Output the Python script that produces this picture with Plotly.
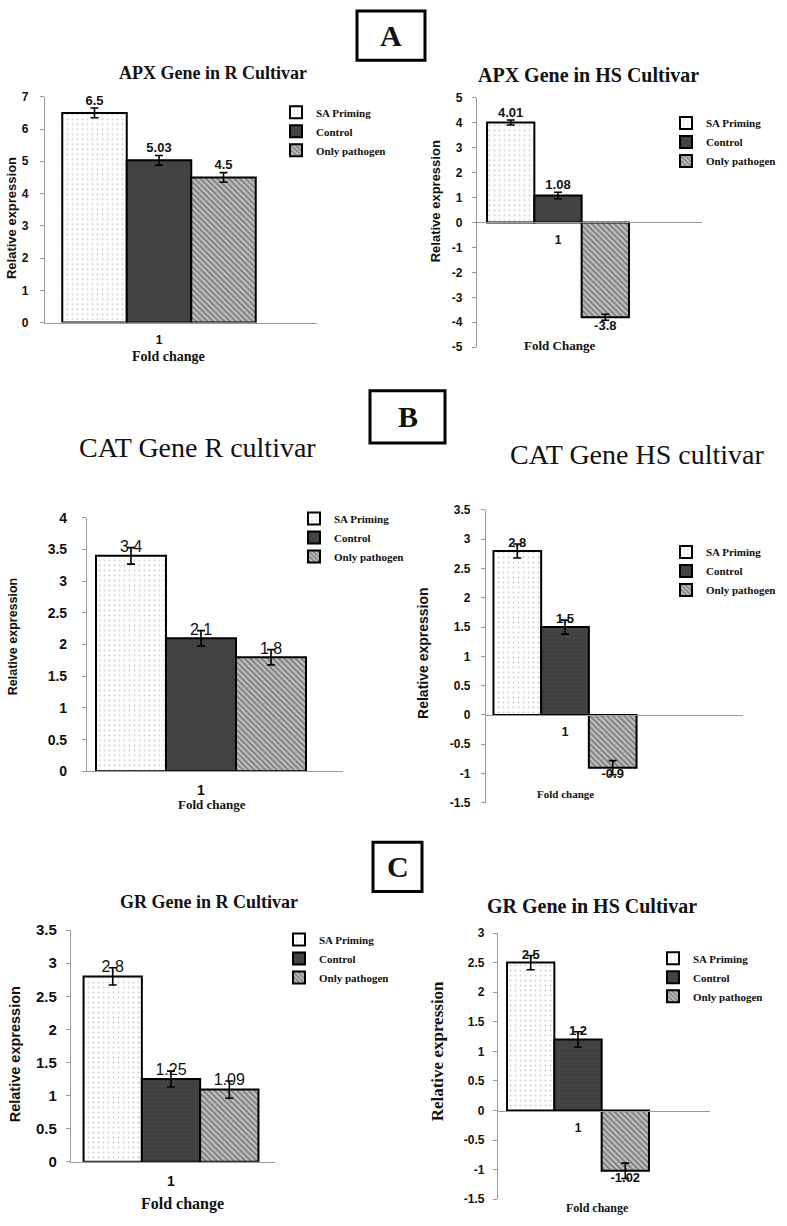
import plotly.graph_objects as go

FIG_W, FIG_H = 787, 1226

# ---------------- data ----------------
series_names = ["SA Priming", "Control", "Only pathogen"]
category_x = [1]
category_labels = ["1"]

apx_r_values = [6.5, 5.03, 4.5]
apx_r_errors = [0.15, 0.15, 0.15]
apx_hs_values = [4.01, 1.08, -3.8]
apx_hs_errors = [0.1, 0.13, 0.12]
cat_r_values = [3.4, 2.1, 1.8]
cat_r_errors = [0.13, 0.12, 0.12]
cat_hs_values = [2.8, 1.5, -0.9]
cat_hs_errors = [0.12, 0.12, 0.12]
gr_r_values = [2.8, 1.25, 1.09]
gr_r_errors = [0.13, 0.12, 0.13]
gr_hs_values = [2.5, 1.2, -1.02]
gr_hs_errors = [0.12, 0.13, 0.13]

apx_r_ticks = [0, 1, 2, 3, 4, 5, 6, 7]
apx_hs_ticks = [-5, -4, -3, -2, -1, 0, 1, 2, 3, 4, 5]
cat_r_ticks = [0, 0.5, 1, 1.5, 2, 2.5, 3, 3.5, 4]
cat_hs_ticks = [-1.5, -1, -0.5, 0, 0.5, 1, 1.5, 2, 2.5, 3, 3.5]
gr_r_ticks = [0, 0.5, 1, 1.5, 2, 2.5, 3, 3.5]
gr_hs_ticks = [-1.5, -1, -0.5, 0, 0.5, 1, 1.5, 2, 2.5, 3]

titles = ["APX Gene in R Cultivar", "APX Gene in HS Cultivar",
          "CAT Gene R cultivar", "CAT Gene HS cultivar",
          "GR Gene in R Cultivar", "GR Gene in HS Cultivar"]
x_titles = ["Fold change", "Fold Change", "Fold change", "Fold change",
            "Fold change", "Fold change"]
y_title = "Relative expression"
panel_letters = ["A", "B", "C"]

# ---------------- styles ----------------
SERIF = "Liberation Serif, Times New Roman, serif"
SANS = "Liberation Sans, Arial, sans-serif"
AXIS_GRAY = "#9a9a9a"

series_styles = [
    dict(color="white", pattern=dict(shape=".", fgcolor="#9a9a9a", bgcolor="white",
                                     size=5, solidity=0.12)),
    dict(color="#3c3c3c", pattern=dict(shape="+", fgcolor="#2c2c2c", bgcolor="#464646",
                                       size=4, solidity=0.3)),
    dict(color="#8c8c8c", pattern=dict(shape="\\", fgcolor="#3a3a3a", bgcolor="#c4c4c4",
                                       size=4, solidity=0.5)),
]
bar_width = 1.0
bar_offsets = [-1.5, -0.5, 0.5]

# panel geometry in pixels (layout only)
panels = [
    dict(values=apx_r_values, errors=apx_r_errors, ticks=apx_r_ticks,
         L=45, R=317, C=159, W=64.5, top=89, bot=318,
         title_xy=(213, 65), title_font=dict(family=SERIF, size=18, weight="bold"),
         ytitle_xy=(11, 212), ytitle_font=dict(family=SANS, size=13, weight="bold"),
         xtitle_xy=(168, 352), xtitle_font=dict(family=SERIF, size=14, weight="bold"),
         leg_xy=(316, 100), leg_size=11, tick_size=12,
         val_font=dict(family=SANS, size=13, weight="bold"), val_mid=False, standoff=9),
    dict(values=apx_hs_values, errors=apx_hs_errors, ticks=apx_hs_ticks,
         L=477, R=702, C=558, W=47.3, top=90, bot=343,
         title_xy=(588, 67), title_font=dict(family=SERIF, size=20, weight="bold"),
         ytitle_xy=(435, 195), ytitle_font=dict(family=SANS, size=13, weight="bold"),
         xtitle_xy=(559, 341), xtitle_font=dict(family=SERIF, size=13, weight="bold"),
         leg_xy=(706, 111), leg_size=11, tick_size=12,
         val_font=dict(family=SANS, size=13, weight="bold"), val_mid=False, standoff=7),
    dict(values=cat_r_values, errors=cat_r_errors, ticks=cat_r_ticks,
         L=87, R=343, C=201, W=70, top=516, bot=773,
         title_xy=(197, 445), title_font=dict(family=SERIF, size=28, weight="normal"),
         ytitle_xy=(13, 637), ytitle_font=dict(family=SANS, size=12.5, weight="bold"),
         xtitle_xy=(212, 807), xtitle_font=dict(family=SERIF, size=13, weight="bold"),
         leg_xy=(334, 512), leg_size=11, tick_size=14,
         val_font=dict(family=SANS, size=16, weight="normal"), val_mid=True, standoff=12),
    dict(values=cat_hs_values, errors=cat_hs_errors, ticks=cat_hs_ticks,
         L=486, R=743, C=565, W=47.7, top=508, bot=805,
         title_xy=(637, 452), title_font=dict(family=SERIF, size=28, weight="normal"),
         ytitle_xy=(423, 653), ytitle_font=dict(family=SANS, size=14, weight="bold"),
         xtitle_xy=(565, 796), xtitle_font=dict(family=SERIF, size=11, weight="bold"),
         leg_xy=(706, 546), leg_size=11, tick_size=12,
         val_font=dict(family=SANS, size=13, weight="bold"), val_mid=True, standoff=8),
    dict(values=gr_r_values, errors=gr_r_errors, ticks=gr_r_ticks,
         L=71, R=275, C=171, W=58.3, top=934, bot=1169,
         title_xy=(209, 906), title_font=dict(family=SERIF, size=18, weight="bold"),
         ytitle_xy=(15, 1060), ytitle_font=dict(family=SANS, size=14.5, weight="bold"),
         xtitle_xy=(182, 1212), xtitle_font=dict(family=SERIF, size=16, weight="bold"),
         leg_xy=(319, 939), leg_size=11, tick_size=15,
         val_font=dict(family=SANS, size=16, weight="normal"), val_mid=True, standoff=6),
    dict(values=gr_hs_values, errors=gr_hs_errors, ticks=gr_hs_ticks,
         L=498, R=710, C=578, W=47.3, top=937, bot=1207,
         title_xy=(592, 910), title_font=dict(family=SERIF, size=20, weight="bold"),
         ytitle_xy=(437, 1057), ytitle_font=dict(family=SERIF, size=17, weight="bold"),
         xtitle_xy=(597, 1216), xtitle_font=dict(family=SERIF, size=12, weight="bold"),
         leg_xy=(693, 958), leg_size=11, tick_size=12,
         val_font=dict(family=SANS, size=13, weight="bold"), val_mid=True, standoff=6),
]
letter_boxes = [(357, 425, 2, 52), (370, 445, 387, 440), (373, 422, 845, 895)]


def pxx(x):
    return x / FIG_W


def pxy(y):
    return 1 - y / FIG_H


fig = go.Figure()
layout = dict(annotations=[], shapes=[])

for i, p in enumerate(panels):
    k = i + 1
    xref = "x" if k == 1 else f"x{k}"
    yref = "y" if k == 1 else f"y{k}"
    leg = "legend" if k == 1 else f"legend{k}"
    vals, errs = p["values"], p["errors"]

    for j, name in enumerate(series_names):
        st = series_styles[j]
        fig.add_trace(go.Bar(
            x=category_x, y=[vals[j]], width=[bar_width], offset=[bar_offsets[j]],
            name=name, legend=leg, xaxis=xref, yaxis=yref,
            marker=dict(color=st["color"], pattern=st["pattern"],
                        line=dict(color="black", width=2)),
            error_y=dict(type="data", array=[errs[j]], color="black",
                         thickness=1.6, width=4),
            hoverinfo="skip",
        ))
    # value labels at the error-bar ends
    tx = [category_x[0] + off + bar_width / 2 for off in bar_offsets]
    ty = [v + e if v >= 0 else v - e for v, e in zip(vals, errs)]
    if p["val_mid"]:
        tpos = ["middle center"] * len(vals)
    else:
        tpos = ["top center" if v >= 0 else "bottom center" for v in vals]
    fig.add_trace(go.Scatter(
        x=tx, y=ty, mode="text", text=[f"{v:g}" for v in vals], textposition=tpos,
        textfont=dict(color="#111", **p["val_font"]),
        showlegend=False, xaxis=xref, yaxis=yref, hoverinfo="skip", cliponaxis=False,
    ))

    ticks = p["ticks"]
    ymin, ymax = ticks[0], ticks[-1]
    L, R, C, W = p["L"], p["R"], p["C"], p["W"]
    xr = [category_x[0] - (C - L) / W, category_x[0] + (R - C) / W]
    zero_px = p["top"] + ymax * (p["bot"] - p["top"]) / (ymax - ymin)

    xaxis = dict(domain=[pxx(L), pxx(R)], range=xr, tickvals=category_x,
                 ticktext=category_labels, showline=True, linecolor=AXIS_GRAY,
                 linewidth=1.2, ticks="", showgrid=False, zeroline=False,
                 ticklabelstandoff=6,
                 tickfont=dict(family=SANS, size=min(p["tick_size"], 14), color="#111",
                               weight="bold"))
    if ymin < 0:
        xaxis.update(anchor="free", position=pxy(zero_px))
    else:
        xaxis.update(anchor=yref)
    yaxis = dict(domain=[pxy(p["bot"]), pxy(p["top"])], range=[ymin, ymax],
                 tickvals=ticks, ticktext=[f"{t:g}" for t in ticks],
                 showline=True, linecolor=AXIS_GRAY, linewidth=1.2, ticks="outside",
                 ticklen=4, tickcolor=AXIS_GRAY, showgrid=False, zeroline=False,
                 anchor=xref, ticklabelstandoff=p["standoff"],
                 tickfont=dict(family=SANS, size=p["tick_size"], color="#111", weight="bold"))
    layout["xaxis" if k == 1 else f"xaxis{k}"] = xaxis
    layout["yaxis" if k == 1 else f"yaxis{k}"] = yaxis

    lx, ly = p["leg_xy"]
    layout[leg] = dict(x=pxx(lx - 40), y=pxy(ly - 10), xanchor="left", yanchor="top",
                       bgcolor="rgba(0,0,0,0)", borderwidth=0,
                       font=dict(family=SERIF, size=p["leg_size"], color="#111", weight="bold"),
                       tracegroupgap=0)

    tx_, ty_ = p["title_xy"]
    layout["annotations"].append(dict(text=titles[i], x=pxx(tx_), y=pxy(ty_), xref="paper",
                                      yref="paper", showarrow=False, xanchor="center",
                                      yanchor="middle", font=dict(color="#111", **p["title_font"])))
    yx, yy = p["ytitle_xy"]
    layout["annotations"].append(dict(text=y_title, x=pxx(yx), y=pxy(yy), xref="paper",
                                      yref="paper", showarrow=False, textangle=-90,
                                      xanchor="center", yanchor="middle",
                                      font=dict(color="#111", **p["ytitle_font"])))
    fx, fy = p["xtitle_xy"]
    layout["annotations"].append(dict(text=x_titles[i], x=pxx(fx), y=pxy(fy), xref="paper",
                                      yref="paper", showarrow=False, xanchor="center",
                                      yanchor="middle", font=dict(color="#111", **p["xtitle_font"])))

for letter, (x0, x1, y0, y1) in zip(panel_letters, letter_boxes):
    layout["shapes"].append(dict(type="rect", xref="paper", yref="paper",
                                 x0=pxx(x0), x1=pxx(x1), y0=pxy(y1), y1=pxy(y0),
                                 line=dict(color="black", width=3), fillcolor="white"))
    layout["annotations"].append(dict(text=letter, x=pxx((x0 + x1) / 2), y=pxy((y0 + y1) / 2),
                                      xref="paper", yref="paper", showarrow=False,
                                      xanchor="center", yanchor="middle",
                                      font=dict(family=SERIF, size=30, color="#111", weight="bold")))

fig.update_layout(
    width=FIG_W, height=FIG_H, margin=dict(l=0, r=0, t=0, b=0),
    paper_bgcolor="white", plot_bgcolor="white", barmode="overlay", **layout,
)
fig.write_html("out.html", config={"displayModeBar": False},
               post_script="document.body.style.margin='0';document.body.style.overflow='hidden';")
